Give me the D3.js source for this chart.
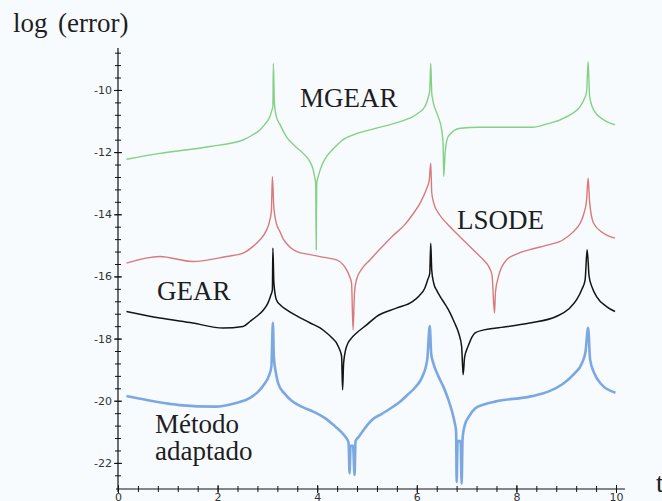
<!DOCTYPE html>
<html lang="es">
  <head>
    <meta charset="utf-8" />
    <script src="https://d3js.org/d3.v7.min.js"></script>
    <style>
      body {
        margin: 0;
        background: #f8fbfe;
      }
      svg {
        display: block;
      }
      .lbl {
        font-family: 'Liberation Serif', 'Times New Roman', serif;
        font-size: 27px;
        fill: #1e1e1e;
      }
      .tick text {
        font-family: 'DejaVu Sans', sans-serif;
        font-size: 11px;
        fill: #333;
      }
    </style>
  </head>

  <body>
    <svg id="chart" width="662" height="501"></svg>
    <script>
      // log10(error) against t
      const mgear = [
        [0.17, -12.23], [0.84, -12.04], [1.85, -11.82], [2.51, -11.61], [2.7, -11.45],
        [2.85, -11.29], [2.95, -11.1], [3.05, -10.86], [3.09, -10.65], [3.11, -10.54],
        [3.12, -9.15], [3.14, -10.4], [3.18, -10.86], [3.25, -11.1], [3.38, -11.5],
        [3.55, -11.8], [3.72, -12.04], [3.85, -12.3], [3.92, -12.57], [3.96, -12.9],
        [3.97, -13.0], [3.98, -15.14], [3.99, -13.0], [4.02, -12.79], [4.1, -12.4],
        [4.19, -12.14], [4.35, -11.85], [4.52, -11.6], [4.8, -11.4], [5.19, -11.23],
        [5.6, -11.05], [5.92, -10.86], [6.05, -10.72], [6.16, -10.54], [6.22, -10.3],
        [6.26, -10.0], [6.28, -9.15], [6.3, -10.1], [6.32, -10.32], [6.43, -10.86],
        [6.5, -11.29], [6.53, -11.8], [6.54, -12.79], [6.57, -12.0], [6.63, -11.5],
        [6.87, -11.23], [7.27, -11.2], [8.33, -11.2], [8.6, -11.1], [8.88, -10.96],
        [9.1, -10.78], [9.28, -10.54], [9.36, -10.3], [9.41, -10.05], [9.44, -9.09],
        [9.47, -10.2], [9.55, -10.64], [9.75, -10.96], [9.98, -11.12],
      ];
      const lsode = [
        [0.17, -15.57], [0.84, -15.36], [1.5, -15.52], [2.18, -15.36], [2.51, -15.25],
        [2.7, -15.05], [2.85, -14.82], [2.97, -14.55], [3.05, -14.18], [3.08, -13.9],
        [3.1, -12.79], [3.13, -13.8], [3.18, -14.29], [3.25, -14.55], [3.32, -14.8],
        [3.45, -15.05], [3.59, -15.2], [3.86, -15.3], [4.1, -15.38], [4.39, -15.47],
        [4.52, -15.62], [4.59, -15.79], [4.65, -16.0], [4.69, -16.22], [4.72, -17.72],
        [4.75, -16.5], [4.79, -16.1], [4.9, -15.75], [5.06, -15.47], [5.26, -15.12],
        [5.5, -14.72], [5.75, -14.35], [5.92, -14.0], [6.08, -13.6], [6.19, -13.2],
        [6.25, -12.9], [6.28, -12.36], [6.3, -13.3], [6.34, -13.64], [6.45, -14.0],
        [6.6, -14.29], [6.8, -14.62], [7.0, -14.93], [7.2, -15.25], [7.34, -15.47],
        [7.45, -15.7], [7.51, -15.95], [7.56, -17.18], [7.58, -16.5], [7.64, -16.0],
        [7.8, -15.47], [8.0, -15.28], [8.27, -15.14], [8.6, -15.0], [8.94, -14.82],
        [9.15, -14.55], [9.28, -14.29], [9.36, -13.95], [9.41, -13.54], [9.44, -12.84],
        [9.47, -13.6], [9.55, -14.29], [9.75, -14.61], [9.98, -14.77],
      ];
      const gear = [
        [0.17, -17.13], [0.84, -17.34], [1.5, -17.5], [2.11, -17.66], [2.51, -17.61],
        [2.65, -17.45], [2.78, -17.29], [2.92, -17.08], [3.01, -16.86], [3.07, -16.6],
        [3.1, -16.43], [3.11, -15.09], [3.13, -16.2], [3.18, -16.75], [3.26, -16.92],
        [3.38, -17.07], [3.6, -17.28], [3.86, -17.5], [4.05, -17.65], [4.19, -17.82],
        [4.3, -17.98], [4.39, -18.15], [4.45, -18.35], [4.49, -18.57], [4.51, -19.65],
        [4.53, -18.8], [4.59, -18.25], [4.68, -18.0], [4.79, -17.82], [5.0, -17.55],
        [5.19, -17.29], [5.59, -17.02], [5.92, -16.8], [6.05, -16.62], [6.16, -16.38],
        [6.22, -16.1], [6.26, -15.9], [6.28, -14.93], [6.3, -15.8], [6.34, -16.22],
        [6.4, -16.45], [6.47, -16.65], [6.57, -16.9], [6.67, -17.18], [6.76, -17.5],
        [6.84, -17.82], [6.9, -18.25], [6.93, -19.16], [6.96, -18.6], [7.03, -18.25],
        [7.17, -17.82], [7.35, -17.72], [7.6, -17.66], [8.27, -17.5], [8.8, -17.29],
        [9.05, -17.05], [9.21, -16.75], [9.32, -16.4], [9.38, -16.11], [9.42, -15.14],
        [9.46, -16.0], [9.52, -16.35], [9.61, -16.65], [9.81, -16.97], [9.98, -17.13],
      ];
      const adaptado = [
        [0.17, -19.85], [1.24, -20.14], [1.96, -20.19], [2.35, -20.08], [2.66, -19.9],
        [2.82, -19.7], [2.94, -19.46], [3.03, -19.2], [3.08, -18.9], [3.11, -17.49],
        [3.13, -18.6], [3.17, -19.1], [3.22, -19.46], [3.35, -19.78], [3.5, -20.02],
        [3.7, -20.2], [3.93, -20.36], [4.15, -20.55], [4.35, -20.81], [4.48, -21.0],
        [4.56, -21.15], [4.63, -21.35], [4.65, -22.33], [4.67, -21.45], [4.72, -21.45],
        [4.75, -22.39], [4.77, -21.3], [4.84, -21.15], [4.95, -20.9], [5.12, -20.59],
        [5.3, -20.42], [5.47, -20.25], [5.65, -20.05], [5.82, -19.8], [5.98, -19.55],
        [6.11, -19.23], [6.21, -18.67], [6.26, -17.6], [6.29, -18.5], [6.33, -18.78],
        [6.43, -19.2], [6.54, -19.57], [6.63, -19.95], [6.71, -20.36], [6.76, -20.7],
        [6.79, -21.0], [6.8, -22.62], [6.82, -21.3], [6.88, -21.3], [6.9, -22.67],
        [6.92, -21.2], [6.96, -20.81], [7.05, -20.5], [7.17, -20.25], [7.35, -20.12],
        [7.59, -20.02], [8.29, -19.86], [8.65, -19.7], [8.93, -19.46], [9.15, -19.15],
        [9.32, -18.78], [9.39, -18.4], [9.44, -17.65], [9.48, -18.67], [9.56, -19.1],
        [9.7, -19.46], [9.99, -19.74],
      ];

      const xTicks = [0, 2, 4, 6, 8, 10];
      const yTicks = [-22, -20, -18, -16, -14, -12, -10];

      const svg = d3.select('#chart');

      const x = d3.scaleLinear().domain([0, 10]).range([118, 616]);
      const y = d3.scaleLinear().domain([-22.84, -8.65]).range([489, 48]);

      // minor ticks every 0.4, crossing the axis line (maple style)
      const xMinor = d3.range(0.4, 10.01, 0.4);
      const yMinor = d3.range(-22.4, -8.7, 0.4);

      const gx = svg.append('g').attr('transform', `translate(0,${y(-22.84)})`);
      gx.append('g')
        .call(d3.axisBottom(x).tickValues(xMinor).tickSize(3).tickFormat(''))
        .call((g) => g.select('.domain').remove())
        .call((g) => g.selectAll('.tick line').attr('y1', -3));
      gx.append('g')
        .call(
          d3.axisBottom(x).tickValues(xTicks).tickSize(4).tickPadding(0).tickFormat((d) => String(d))
        )
        .call((g) => g.select('.domain').remove())
        .call((g) => g.selectAll('.tick line').attr('y1', -4));
      gx.append('line')
        .attr('x1', x(-0.04))
        .attr('x2', x(10.18))
        .attr('stroke', '#111')
        .attr('stroke-width', 1.2);

      const gy = svg.append('g').attr('transform', `translate(${x(0)},0)`);
      gy.append('g')
        .call(d3.axisLeft(y).tickValues(yMinor).tickSize(3).tickFormat(''))
        .call((g) => g.select('.domain').remove())
        .call((g) => g.selectAll('.tick line').attr('x1', 3));
      gy.append('g')
        .call(
          d3.axisLeft(y).tickValues(yTicks).tickSize(4).tickPadding(2).tickFormat((d) => String(d))
        )
        .call((g) => g.select('.domain').remove())
        .call((g) => g.selectAll('.tick line').attr('x1', 4));
      gy.append('line')
        .attr('y1', y(-8.65))
        .attr('y2', y(-22.84) + 3)
        .attr('stroke', '#111')
        .attr('stroke-width', 1.2);

      svg.selectAll('.tick line').attr('stroke', '#111').attr('stroke-width', 1);

      // curves
      const line = d3
        .line()
        .curve(d3.curveMonotoneX)
        .x((d) => x(d[0]))
        .y((d) => y(d[1]));

      const series = [
        { data: mgear, color: '#84d184', width: 1.4 },
        { data: lsode, color: '#d97a7a', width: 1.4 },
        { data: gear, color: '#141414', width: 1.5 },
        { data: adaptado, color: '#7ca8e2', width: 2.6 },
      ];

      svg
        .selectAll('path.curve')
        .data(series)
        .enter()
        .append('path')
        .attr('class', 'curve')
        .attr('d', (d) => line(d.data))
        .attr('fill', 'none')
        .attr('stroke', (d) => d.color)
        .attr('stroke-width', (d) => d.width)
        .attr('stroke-linejoin', 'round');

      // labels
      svg.append('text').attr('class', 'lbl').attr('x', 13).attr('y', 32).text('log');
      svg.append('text').attr('class', 'lbl').attr('x', 58).attr('y', 32).text('(error)');
      svg.append('text').attr('class', 'lbl').attr('x', 656).attr('y', 492).text('t');
      svg.append('text').attr('class', 'lbl').attr('x', 300).attr('y', 107).text('MGEAR');
      svg.append('text').attr('class', 'lbl').attr('x', 457).attr('y', 229).text('LSODE');
      svg.append('text').attr('class', 'lbl').attr('x', 157).attr('y', 300).text('GEAR');
      svg.append('text').attr('class', 'lbl').attr('x', 155).attr('y', 433).text('Método');
      svg.append('text').attr('class', 'lbl').attr('x', 155).attr('y', 460).text('adaptado');
    </script>
  </body>
</html>
